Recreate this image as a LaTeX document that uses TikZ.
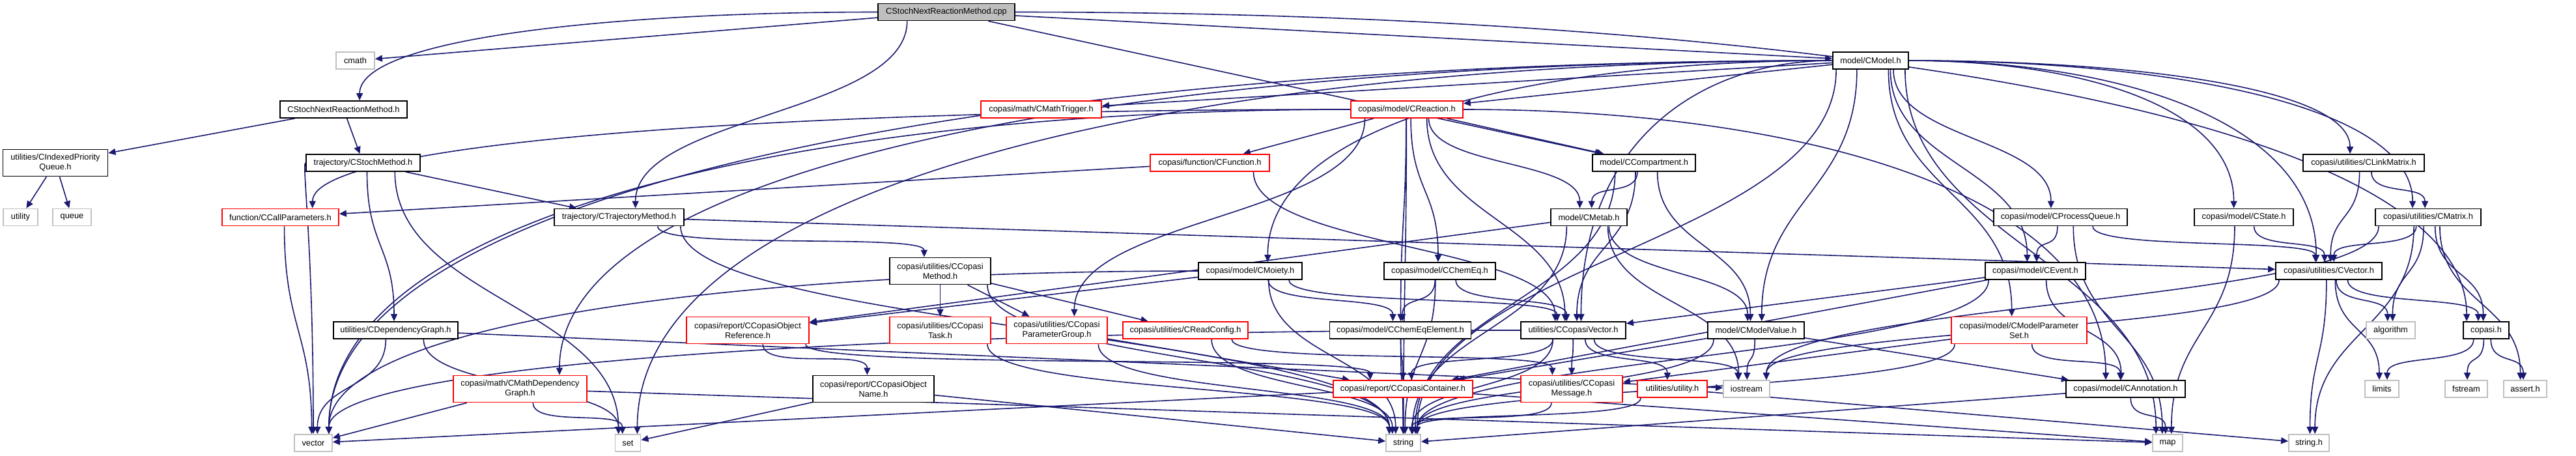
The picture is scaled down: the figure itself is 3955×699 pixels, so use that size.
\documentclass[tikz,border=0pt]{standalone}
\usepackage{fontspec}
\setmainfont{Liberation Sans}
\usetikzlibrary{arrows.meta,calc}
\definecolor{navy}{HTML}{191970}
\definecolor{grayb}{HTML}{C0C0C0}
\definecolor{fillg}{HTML}{BFBFBF}
\definecolor{redc}{HTML}{FF0000}
\pgfdeclarelayer{bg}
\pgfsetlayers{bg,main}
\tikzset{
  nd/.style={draw, line width=1.8pt, inner sep=0pt, minimum height=26pt, align=center,
             font=\fontsize{12.8}{15}\selectfont, fill=white},
  bnode/.style={nd, draw=black},
  rnode/.style={nd, draw=redc},
  gnode/.style={nd, draw=grayb},
  dbl/.style={minimum height=41pt},
  edg/.style={draw=navy, line width=1.6pt, -{Triangle[length=11pt,width=10pt]}}
}
\newcommand\EdV[3][]{%
  \draw[edg,#1] let \p1=(#2.center), \p2=(#3.center), \p3=(#2.east), \p4=(#3.east),
    \n1={max(\x1-\x3+6, min(\x3-\x1-6, 0.12*(\x2-\x1)))},
    \n2={max(\x2-\x4+6, min(\x4-\x2-6, 0.05*(\x1-\x2)))},
    \n3={0.45*abs(\y1-\y2)}
  in ([xshift=\n1]#2.south) .. controls +(0pt,-\n3) and +(0pt,\n3) .. ([xshift=\n2]#3.north);}
\newcommand\EdL[3][]{%
  \draw[edg,#1] let \p1=(#2.west), \p2=(#3.north), \p4=(#3.north east),
    \n2={min(\x4-\x2-6, max(0, 0.03*(\x1-\x2)))},
    \n5={0.5*abs(\x1-\x2)}, \n6={0.7*abs(\y1-\y2)}
  in (\p1) .. controls +(-\n5,0pt) and +(0pt,\n6) .. ([xshift=\n2]\p2);}
\newcommand\EdR[3][]{%
  \draw[edg,#1] let \p1=(#2.east), \p2=(#3.north), \p4=(#3.north east),
    \n2={max(\x2-\x4+6, min(0, 0.03*(\x1-\x2)))},
    \n5={0.5*abs(\x1-\x2)}, \n6={0.7*abs(\y1-\y2)}
  in (\p1) .. controls +(\n5,0pt) and +(0pt,\n6) .. ([xshift=\n2]\p2);}
\newcommand\EdS[3][]{\draw[edg,#1] (#2) -- (#3);}
\begin{document}
\begin{tikzpicture}[x=1pt,y=-1pt]
\useasboundingbox (0,0) rectangle (3955,699);
% row 0
\node[bnode, fill=fillg, minimum width=210pt] (cpp) at (1453,18.5) {CStochNextReactionMethod.cpp};
% row 1
\node[gnode, minimum width=59pt] (cmath) at (545.5,93) {cmath};
\node[bnode, minimum width=116pt] (CModel) at (2872,93) {model/CModel.h};
% row 2
\node[bnode, minimum width=195pt] (CStochNRM) at (527.5,168) {CStochNextReactionMethod.h};
\node[rnode, minimum width=185pt] (CMathTrig) at (1598.5,168) {copasi/math/CMathTrigger.h};
\node[rnode, minimum width=172pt] (CReac) at (2160,168) {copasi/model/CReaction.h};
% row 3
\node[bnode, dbl, minimum width=161pt] (CIPQ) at (85,250) {utilities/CIndexedPriority\\Queue.h};
\node[bnode, minimum width=175pt] (CStochM) at (557.5,250) {trajectory/CStochMethod.h};
\node[rnode, minimum width=183pt] (CFunc) at (1857.5,250) {copasi/function/CFunction.h};
\node[bnode, minimum width=158pt] (CComp) at (2524,250) {model/CCompartment.h};
\node[bnode, minimum width=186pt] (CLinkM) at (3629,250) {copasi/utilities/CLinkMatrix.h};
% row 4
\node[gnode, minimum width=53pt] (nutility) at (31.5,333.5) {utility};
\node[gnode, minimum width=59pt] (nqueue) at (110.5,333.5) {queue};
\node[rnode, minimum width=179pt] (CCallP) at (430.5,333.5) {function/CCallParameters.h};
\node[bnode, minimum width=199pt] (CTraj) at (950.5,333.5) {trajectory/CTrajectoryMethod.h};
\node[bnode, minimum width=117pt] (CMetab) at (2439.5,333.5) {model/CMetab.h};
\node[bnode, minimum width=205pt] (CPQ) at (3163.5,333.5) {copasi/model/CProcessQueue.h};
\node[bnode, minimum width=152pt] (CState) at (3445,333.5) {copasi/model/CState.h};
\node[bnode, minimum width=162pt] (CMatrix) at (3728,333.5) {copasi/utilities/CMatrix.h};
% row 5
\node[bnode, dbl, minimum width=155pt] (CCMeth) at (1443.5,416) {copasi/utilities/CCopasi\\Method.h};
\node[bnode, minimum width=159pt] (CMoiety) at (1919.5,416) {copasi/model/CMoiety.h};
\node[bnode, minimum width=171pt] (CChemEq) at (2210.5,416) {copasi/model/CChemEq.h};
\node[bnode, minimum width=154pt] (CEvent) at (3125,416) {copasi/model/CEvent.h};
\node[bnode, minimum width=163pt] (CVector) at (3575.5,416) {copasi/utilities/CVector.h};
% row 6
\node[bnode, minimum width=191pt] (CDepG) at (607.5,507) {utilities/CDependencyGraph.h};
\node[rnode, dbl, minimum width=188pt] (CCOR) at (1148,507) {copasi/report/CCopasiObject\\Reference.h};
\node[rnode, dbl, minimum width=155pt] (CCTask) at (1443.5,507) {copasi/utilities/CCopasi\\Task.h};
\node[rnode, dbl, minimum width=155pt] (CCPG) at (1622.5,507) {copasi/utilities/CCopasi\\ParameterGroup.h};
\node[rnode, minimum width=192pt] (CReadC) at (1820,507) {copasi/utilities/CReadConfig.h};
\node[bnode, minimum width=217pt] (CChemEqEl) at (2150,507) {copasi/model/CChemEqElement.h};
\node[bnode, minimum width=161pt] (CCVec) at (2415.5,507) {utilities/CCopasiVector.h};
\node[bnode, minimum width=148pt] (CModelValue) at (2696,507) {model/CModelValue.h};
\node[rnode, dbl, minimum width=208pt] (CMPS) at (3100,507) {copasi/model/CModelParameter\\Set.h};
\node[gnode, minimum width=75pt] (nalgorithm) at (3670.5,507) {algorithm};
\node[bnode, minimum width=70pt] (copasih) at (3817,507) {copasi.h};
% row 7
\node[rnode, dbl, minimum width=205pt] (CMathDG) at (798.5,597) {copasi/math/CMathDependency\\Graph.h};
\node[bnode, dbl, minimum width=186pt] (CCON) at (1341,597) {copasi/report/CCopasiObject\\Name.h};
\node[rnode, minimum width=214pt] (CCCont) at (2154,597) {copasi/report/CCopasiContainer.h};
\node[rnode, dbl, minimum width=156pt] (CCMsg) at (2413,597) {copasi/utilities/CCopasi\\Message.h};
\node[rnode, minimum width=107pt] (utilityh) at (2567.5,597) {utilities/utility.h};
\node[gnode, minimum width=71pt] (niostream) at (2681.5,597) {iostream};
\node[bnode, minimum width=183pt] (CAnnot) at (3263.5,597) {copasi/model/CAnnotation.h};
\node[gnode, minimum width=52pt] (nlimits) at (3657,597) {limits};
\node[gnode, minimum width=65pt] (nfstream) at (3786.5,597) {fstream};
\node[gnode, minimum width=66pt] (nasserth) at (3877,597) {assert.h};
% row 8
\node[gnode, minimum width=58pt] (nvector) at (481,680) {vector};
\node[gnode, minimum width=39pt] (nset) at (964,680) {set};
\node[gnode, minimum width=53pt] (nstring) at (2154.5,680) {string};
\node[gnode, minimum width=46pt] (nmap) at (3328,680) {map};
\node[gnode, minimum width=62pt] (nstringh) at (3545,680) {string.h};

\begin{pgfonlayer}{bg}
% cpp
\EdS{cpp}{cmath}
\EdL{cpp}{CStochNRM}
\EdV{cpp}{CTraj}
\EdS{cpp}{CModel}
\EdS{cpp}{CComp}
\EdR{cpp}{copasih}
% CStochNextReactionMethod.h
\EdS{CStochNRM}{CIPQ}
\EdS{CStochNRM}{CStochM}
\EdS{CIPQ}{nutility}
\EdS{CIPQ}{nqueue}
% CStochMethod
\EdL{CStochM}{nvector}
\EdV{CStochM}{CDepG}
\EdS{CStochM}{CTraj}
\EdV{CStochM}{nset}
\EdV{CCallP}{nvector}
\EdS{CFunc}{CCallP}
\EdV{CFunc}{CCVec}
% CReaction
\EdL{CReac}{CCallP}
\EdL{CReac}{nvector}
\EdS{CReac}{CFunc}
\EdV{CReac}{CCPG}
\EdV{CReac}{nstring}
\EdV{CReac}{CChemEqEl}
\EdV{CReac}{CChemEq}
\EdV{CReac}{CCVec}
\EdS{CReac}{CComp}
\EdV{CReac}{CMetab}
\EdR{CReac}{CAnnot}
% CModel
\EdL{CModel}{nvector}
\EdL{CModel}{nset}
\EdL{CModel}{CMathDG}
\EdS{CModel}{CMathTrig}
\EdS{CModel}{CReac}
\EdL{CModel}{CMoiety}
\EdL{CModel}{CCVec}
\EdV{CModel}{CModelValue}
\EdV{CModel}{nstring}
\EdV{CModel}{CMPS}
\EdV{CModel}{CEvent}
\EdV{CModel}{CPQ}
\EdV{CModel}{nmap}
\EdR{CModel}{CMatrix}
\EdR{CModel}{CLinkM}
\EdR{CModel}{CState}
\EdR{CModel}{CVector}
% CTrajectoryMethod
\EdV{CTraj}{CCMeth}
\EdS{CTraj}{CVector}
\EdV{CTraj}{nstring}
% CCopasiMethod
\EdS{CCMeth}{CCTask}
\EdS{CCMeth}{CCPG}
\EdS{CCMeth}{CReadC}
\EdV{CCMeth}{nstring}
\EdV{CCTask}{nstring}
\EdV{CCPG}{nstring}
\EdS{CCPG}{CCCont}
\EdV{CReadC}{nstring}
\EdV{CReadC}{CCMsg}
% CDependencyGraph
\EdV{CDepG}{nvector}
\EdV{CDepG}{nset}
\EdS{CDepG}{niostream}
% CMathDependencyGraph
\EdV{CMathDG}{nset}
\EdS{CMathDG}{nvector}
\EdS{CMathDG}{nmap}
\EdV{CCOR}{CCON}
\EdV{CCOR}{CCCont}
\EdS{CCON}{nset}
\EdS{CCON}{nstring}
% CCompartment
\EdV{CComp}{CMetab}
\EdV{CComp}{CCVec}
\EdV{CComp}{CModelValue}
\EdV{CComp}{nstring}
% CMetab
\EdS{CMetab}{CCOR}
\EdV{CMetab}{niostream}
\EdV{CMetab}{CModelValue}
\EdV{CMetab}{nstring}
% CMoiety
\EdV{CMoiety}{CChemEqEl}
\EdV{CMoiety}{CCVec}
\EdV{CMoiety}{nstring}
\EdL{CMoiety}{nvector}
\EdS{CMoiety}{CCOR}
% CChemEq
\EdV{CChemEq}{CChemEqEl}
\EdV{CChemEq}{CCVec}
\EdV{CChemEq}{nstring}
\EdV{CChemEqEl}{CCCont}
\EdV{CChemEqEl}{nstring}
% CCopasiVector
\EdV{CCVec}{CCCont}
\EdV{CCVec}{CCMsg}
\EdV{CCVec}{utilityh}
\EdV{CCVec}{nstring}
\EdL{CCVec}{nvector}
\EdV{CCVec}{niostream}
% CCopasiContainer
\EdS{CCCont}{nvector}
\EdS{CCCont}{nmap}
\EdV{CCCont}{nstring}
\EdV{CCMsg}{nstring}
\EdV{utilityh}{nstring}
\EdS{utilityh}{nstringh}
% CModelValue
\EdV{CModelValue}{niostream}
\EdV{CModelValue}{nstring}
\EdS{CModelValue}{CAnnot}
\EdS{CModelValue}{CCCont}
% CModelParameterSet
\EdV{CMPS}{CAnnot}
\EdV{CMPS}{nstring}
\EdS{CMPS}{CCMsg}
% CEvent
\EdS{CEvent}{CCVec}
\EdV{CEvent}{CAnnot}
\EdV{CEvent}{nstring}
\EdS{CEvent}{CCCont}
% CProcessQueue
\EdV{CPQ}{CEvent}
\EdV{CPQ}{CVector}
\EdV{CPQ}{nmap}
% CState, CLinkMatrix
\EdV{CState}{CVector}
\EdV{CState}{nmap}
\EdV{CLinkM}{CVector}
\EdV{CLinkM}{CMatrix}
% CMatrix
\EdV{CMatrix}{CVector}
\EdV{CMatrix}{nalgorithm}
\EdV{CMatrix}{copasih}
\EdV{CMatrix}{nasserth}
\EdV{CMatrix}{nstringh}
\EdV{CMatrix}{niostream}
% CVector
\EdV{CVector}{nstringh}
\EdV{CVector}{nlimits}
\EdV{CVector}{nalgorithm}
\EdV{CVector}{copasih}
\EdV{CVector}{niostream}
% copasi.h
\EdV{copasih}{nlimits}
\EdV{copasih}{nfstream}
\EdV{copasih}{nasserth}
% CAnnotation
\EdV{CAnnot}{nmap}
\EdS{CAnnot}{nstring}
\end{pgfonlayer}
\end{tikzpicture}
\end{document}
